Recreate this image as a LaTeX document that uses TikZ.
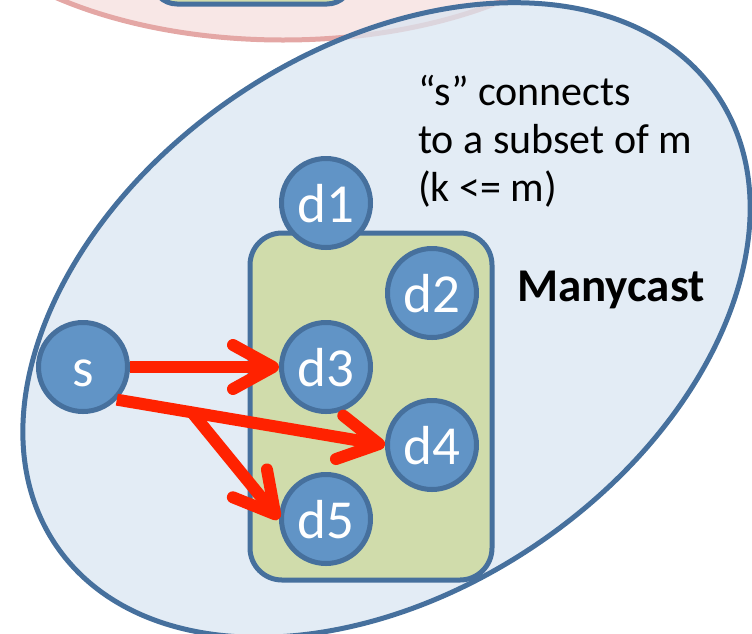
\documentclass[tikz,border=0pt]{standalone}
\usepackage{fontspec}
\setmainfont{Carlito}
\usetikzlibrary{arrows.meta,calc}
\definecolor{nodefill}{HTML}{6194C6}
\definecolor{nodeline}{HTML}{46709D}
\definecolor{ellfill}{HTML}{DAE5F1}
\definecolor{boxfill}{HTML}{D0DCAB}
\definecolor{pinkfill}{HTML}{F8E7E6}
\definecolor{pinkline}{HTML}{E4A7A5}
\definecolor{arrowred}{HTML}{FF2200}
\tikzset{
  dnode/.style={circle, draw=nodeline, fill=nodefill, line width=5pt, minimum size=89pt, inner sep=0pt,
    text=white, text height=39pt, text depth=0pt, font=\fontsize{55}{60}\selectfont},
  groupbox/.style={draw=nodeline, fill=boxfill, line width=5pt, rounded corners=32pt},
  redarrow/.style={draw=arrowred, line width=12pt, -{Straight Barb[length=40pt,width=44pt,round]}},
  note/.style={anchor=base west, inner sep=0pt, font=\fontsize{42}{48}\selectfont},
}
\begin{document}
\begin{tikzpicture}[x=1pt,y=-1pt]
\useasboundingbox (0,0) rectangle (752,633);
\clip (0,0) rectangle (752,633);
% upper (partly visible) group
\draw[draw=pinkline, fill=pinkfill, line width=5pt] (283,-140) ellipse [x radius=352pt, y radius=180pt];
\draw[groupbox, rounded corners=25pt] (152,-80) rectangle (352,4);
% manycast group
\fill[ellfill, fill opacity=0.75, rotate around={34.4:(386.5,320)}] (386.5,320) ellipse [x radius=400pt, y radius=270pt];
\draw[nodeline, line width=5pt, rotate around={34.4:(386.5,320)}] (386.5,320) ellipse [x radius=400pt, y radius=270pt];
\draw[groupbox] (250,233) rectangle (492,580);
% nodes
\node[dnode] (s) at (83,367) {s};
\node[dnode] (d1) at (326,203) {d1};
\node[dnode] (d2) at (432,293) {d2};
\node[dnode] (d3) at (326,367) {d3};
\node[dnode] (d4) at (432,445) {d4};
\node[dnode] (d5) at (326,519) {d5};
% texts
\node[note] (t1) at (418,105) {“s” connects};
\node[note] (t2) at (418,153) {to a subset of m};
\node[note] (t3) at (418,201) {(k <= m)};
\node[note, font=\fontsize{47}{52}\selectfont\bfseries] (mc) at (517,301) {Manycast};
% arrows
\draw[redarrow] (s.east) -- (d3.west);
\coordinate (br) at ($(s.-44)!0.28!(d4.west)$);
\draw[redarrow] (br) -- (d5.west);
\draw[redarrow] (s.-44) -- (d4.west);
\end{tikzpicture}
\end{document}
